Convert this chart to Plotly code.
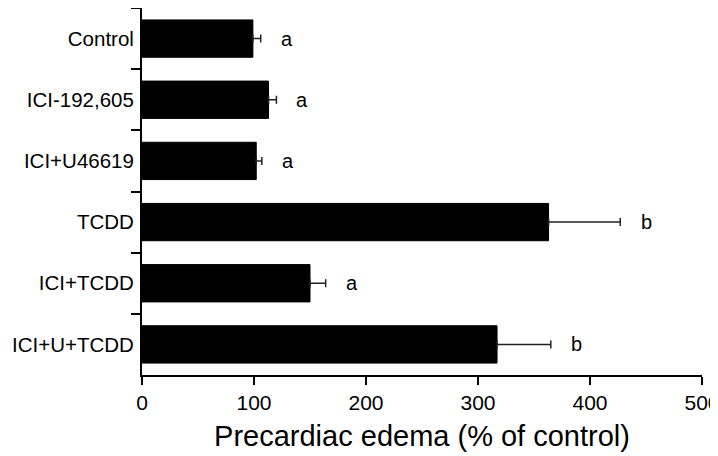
import plotly.graph_objects as go

# Datos
grupos = ["Control", "ICI-192,605", "ICI+U46619", "TCDD", "ICI+TCDD", "ICI+U+TCDD"]
edema = [99, 113, 102, 363, 150, 317]          # % del control
sem = [7, 7, 5, 64, 14, 48]                     # error (solo hacia la derecha)
letras = ["a", "a", "a", "b", "a", "b"]         # grupos estadísticos

fuente = "Liberation Sans, Arial, sans-serif"

fig = go.Figure()

fig.add_trace(go.Bar(
    x=edema,
    y=grupos,
    orientation="h",
    width=0.61,
    marker=dict(color="black", line=dict(color="black", width=1)),
    error_x=dict(
        type="data",
        symmetric=False,
        array=sem,
        arrayminus=[0] * len(sem),
        color="#222222",
        thickness=1.5,
        width=4,
    ),
    showlegend=False,
))

# Letras de significancia a la derecha de cada barra de error
for g, v, e, l in zip(grupos, edema, sem, letras):
    fig.add_annotation(
        x=v + e, y=g, text=l, showarrow=False,
        xshift=26, xanchor="center", yanchor="middle",
        font=dict(family=fuente, size=20, color="black"),
    )

# la página añade 8 px de margen al body: se compensa aquí
fig.update_layout(
    width=718,
    height=456,
    margin=dict(l=134, r=24, t=0, b=89, autoexpand=False),
    plot_bgcolor="white",
    paper_bgcolor="white",
    font=dict(family=fuente, color="black"),
    xaxis=dict(
        range=[0, 500],
        dtick=100,
        showgrid=False,
        zeroline=False,
        showline=True,
        linecolor="black",
        linewidth=2,
        ticks="outside",
        ticklen=8,
        tickwidth=2,
        tickcolor="black",
        tickfont=dict(size=21),
        ticklabeloverflow="allow",
        title=dict(text="Precardiac edema (% of control)", font=dict(size=29), standoff=12),
        automargin=False,
    ),
    yaxis=dict(
        type="category",
        categoryorder="array",
        categoryarray=grupos,
        autorange="reversed",
        tickson="boundaries",
        showgrid=False,
        showline=True,
        linecolor="black",
        linewidth=2,
        ticks="outside",
        ticklen=9,
        tickwidth=2,
        tickcolor="black",
        tickfont=dict(size=20.5),
        ticklabelstandoff=2,
        automargin=False,
    ),
)

fig.write_html("out.html")
